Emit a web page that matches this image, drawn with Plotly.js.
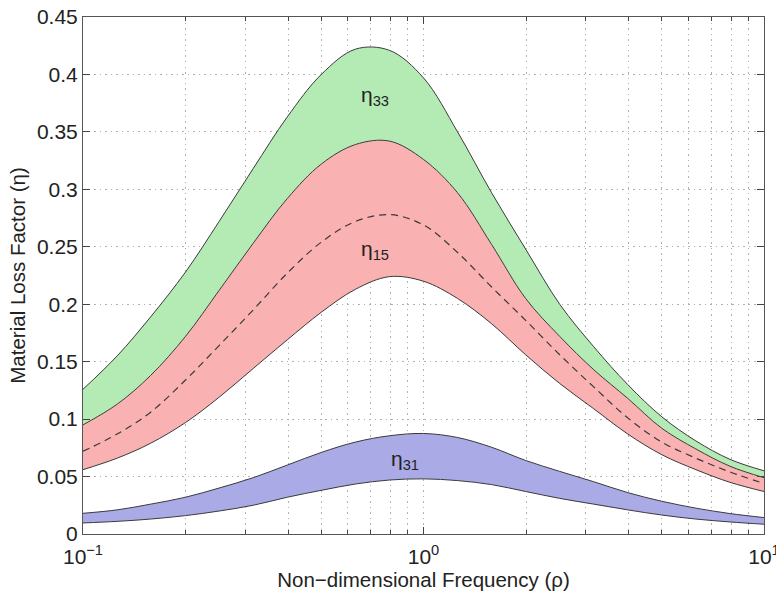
<!DOCTYPE html>
<html>
<head>
<meta charset="utf-8">
<script src="https://cdn.plot.ly/plotly-3.0.1.min.js"></script>
<style>html,body{margin:0;padding:0;background:#fff;}#chart{width:776px;height:591px;}</style>
</head>
<body>
<div id="chart"></div>
<script>
// Non-dimensional frequency (rho), read at 0.1-decade steps
const rho = [0.1, 0.126, 0.158, 0.2, 0.251, 0.316, 0.398, 0.501, 0.631, 0.794, 1, 1.259, 1.585, 1.995, 2.512, 3.162, 3.981, 5.012, 6.31, 7.943, 10];
// eta33 band upper edge (lower edge is eta15Upper)
const eta33Upper = [0.126, 0.155, 0.189, 0.228, 0.272, 0.318, 0.363, 0.400, 0.422, 0.421, 0.397, 0.350, 0.297, 0.248, 0.200, 0.163, 0.130, 0.102, 0.081, 0.065, 0.055];
// eta15 band
const eta15Upper = [0.095, 0.113, 0.138, 0.172, 0.212, 0.253, 0.292, 0.322, 0.339, 0.342, 0.326, 0.297, 0.252, 0.205, 0.172, 0.143, 0.118, 0.092, 0.074, 0.059, 0.049];
const eta15Mean  = [0.072, 0.087, 0.106, 0.134, 0.164, 0.195, 0.227, 0.254, 0.272, 0.278, 0.269, 0.245, 0.215, 0.186, 0.156, 0.128, 0.101, 0.080, 0.066, 0.054, 0.044];
const eta15Lower = [0.056, 0.066, 0.079, 0.097, 0.119, 0.144, 0.169, 0.193, 0.213, 0.224, 0.220, 0.205, 0.183, 0.156, 0.131, 0.109, 0.087, 0.069, 0.056, 0.045, 0.037];
// eta31 band
const eta31Upper = [0.018, 0.021, 0.026, 0.032, 0.040, 0.049, 0.060, 0.071, 0.080, 0.0855, 0.0875, 0.084, 0.0755, 0.064, 0.0545, 0.0455, 0.036, 0.0285, 0.0225, 0.0178, 0.0143];
const eta31Lower = [0.0096, 0.011, 0.013, 0.016, 0.020, 0.025, 0.032, 0.038, 0.0435, 0.047, 0.048, 0.0465, 0.043, 0.037, 0.031, 0.026, 0.021, 0.0165, 0.013, 0.0105, 0.0085];
// Band labels
const labelText = ['η<sub>33</sub>', 'η<sub>15</sub>', 'η<sub>31</sub>'];
const labelX = [0.72, 0.72, 0.88];
const labelY = [0.381, 0.247, 0.064];
// Axis ticks
const xTickVals = [0.1, 1, 10];
const xTickText = ['10<sup>−1</sup>', '10<sup>0</sup>', '10<sup>1</sup>'];
const xMinorVals = [0.2,0.3,0.4,0.5,0.6,0.7,0.8,0.9,2,3,4,5,6,7,8,9];
const yTickVals = [0,0.05,0.1,0.15,0.2,0.25,0.3,0.35,0.4,0.45];
const yTickText = ['0','0.05','0.1','0.15','0.2','0.25','0.3','0.35','0.4','0.45'];

const edge = {color: '#3a3a3a', width: 1, shape: 'spline', smoothing: 1};
const traces = [
  {x: rho, y: eta15Lower, mode: 'lines', line: edge, hoverinfo: 'skip'},
  {x: rho, y: eta15Upper, mode: 'lines', line: edge, fill: 'tonexty', fillcolor: '#f9b1b1', hoverinfo: 'skip'},
  {x: rho, y: eta33Upper, mode: 'lines', line: edge, fill: 'tonexty', fillcolor: '#b4ebb4', hoverinfo: 'skip'},
  {x: rho, y: eta31Lower, mode: 'lines', line: edge, hoverinfo: 'skip'},
  {x: rho, y: eta31Upper, mode: 'lines', line: edge, fill: 'tonexty', fillcolor: '#aaaae6', hoverinfo: 'skip'},
  {x: rho, y: eta15Mean, mode: 'lines', line: {color: '#3a3a3a', width: 1.2, dash: '7px,5px', shape: 'spline', smoothing: 1}, hoverinfo: 'skip'}
];

const font = {family: 'Liberation Sans, Arial, Helvetica, sans-serif', color: '#222'};
const grid = {showgrid: true, gridcolor: '#b0b0b0', griddash: '1.5px,4px', gridwidth: 1};
const layout = {
  width: 776, height: 591,
  margin: {l: 83, r: 12, t: 17, b: 57},
  paper_bgcolor: '#fff', plot_bgcolor: '#fff',
  showlegend: false,
  font: Object.assign({size: 21}, font),
  xaxis: Object.assign({
    type: 'log', range: [-1, 1],
    tickmode: 'array', tickvals: xTickVals, ticktext: xTickText,
    ticks: 'inside', ticklen: 7, tickcolor: '#444',
    ticklabelstandoff: 4, ticklabeloverflow: 'allow',
    minor: Object.assign({tickmode: 'array', tickvals: xMinorVals, ticks: 'inside', ticklen: 4, tickcolor: '#444'}, grid),
    showline: true, linecolor: '#555', linewidth: 1, mirror: 'ticks',
    zeroline: false,
    tickfont: Object.assign({size: 21}, font),
    title: {text: 'Non−dimensional Frequency (ρ)', font: Object.assign({size: 20.5}, font), standoff: 8}
  }, grid),
  yaxis: Object.assign({
    range: [0, 0.45],
    tickmode: 'array', tickvals: yTickVals, ticktext: yTickText,
    ticks: 'inside', ticklen: 7, tickcolor: '#444',
    showline: true, linecolor: '#555', linewidth: 1, mirror: 'ticks',
    zeroline: false,
    tickfont: Object.assign({size: 21}, font),
    title: {text: 'Material Loss Factor (η)', font: Object.assign({size: 20.5}, font), standoff: 5}
  }, grid),
  annotations: labelText.map((t, i) => ({
    x: Math.log10(labelX[i]), y: labelY[i], xref: 'x', yref: 'y',
    text: t, showarrow: false, font: Object.assign({size: 21}, font)
  }))
};
Plotly.newPlot('chart', traces, layout, {staticPlot: true, displayModeBar: false});
</script>
</body>
</html>
